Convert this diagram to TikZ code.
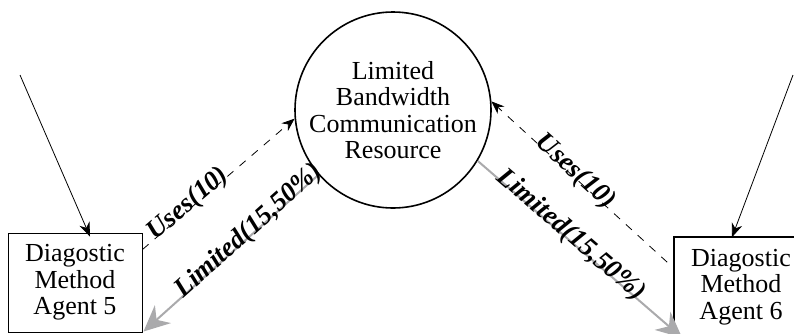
\documentclass[tikz,border=0pt]{standalone}
\usepackage{fontspec}
\setmainfont{Liberation Serif}
\usetikzlibrary{arrows.meta}
\definecolor{arrgray}{RGB}{170,170,172}
\tikzset{
  every node/.style={font=\fontsize{26}{26.5}\selectfont},
  agentbox/.style={draw, rectangle, align=center, inner sep=0pt},
  resource/.style={draw, circle, line width=1.6pt, align=center, inner sep=0pt, minimum size=196pt},
  thinarrow/.style={line width=0.8pt, -{Stealth[length=14pt,width=11pt]}},
  usesarrow/.style={line width=0.8pt, dash pattern=on 8pt off 8pt, -{Stealth[length=13pt,width=10pt]}},
  limitarrow/.style={line width=2pt, draw=arrgray, -{Stealth[length=26pt,width=24pt,fill=arrgray]}},
  elabel/.style={font=\fontsize{27}{27}\selectfont\bfseries\itshape, sloped, anchor=base, inner sep=1pt}
}
\begin{document}
\begin{tikzpicture}[x=1pt,y=-1pt]
\useasboundingbox (0,0) rectangle (794,333);
\clip (0,0) rectangle (794,333);
\node[resource] (res) at (393,110) {Limited\\Bandwidth\\Communication\\Resource};
\node[agentbox, line width=1pt, minimum width=134pt, minimum height=99pt] (a5) at (75,282.5) {Diagostic\\Method\\Agent 5};
\node[agentbox, line width=1.6pt, minimum width=134pt, minimum height=100pt] (a6) at (741,287) {Diagostic\\Method\\Agent 6};
\coordinate (in5) at (20,75);
\coordinate (in6) at (793,75);
\draw[thinarrow] (in5) -- ([xshift=15pt,yshift=-4pt]a5.north);
\draw[thinarrow] (in6) -- ([xshift=-9pt,yshift=-1pt]a6.north);
\draw[usesarrow] ([yshift=-17pt]a5.north east) -- (res.185)
  node[elabel, pos=0.32, yshift=-2pt] {Uses(10)};
\draw[limitarrow] (res.221) -- ([xshift=1pt,yshift=1pt]a5.south east)
  node[elabel, pos=0.38, yshift=-2pt] {Limited(15,50\%)};
\draw[usesarrow] ([xshift=-6pt,yshift=-26pt]a6.north west) -- (res.5)
  node[elabel, pos=0.54, yshift=-2pt] {Uses(10)};
\draw[limitarrow] (res.-31) -- ([xshift=9pt,yshift=0pt]a6.south west)
  node[elabel, pos=0.44, yshift=-2pt] {Limited(15,50\%)};
\end{tikzpicture}
\end{document}
